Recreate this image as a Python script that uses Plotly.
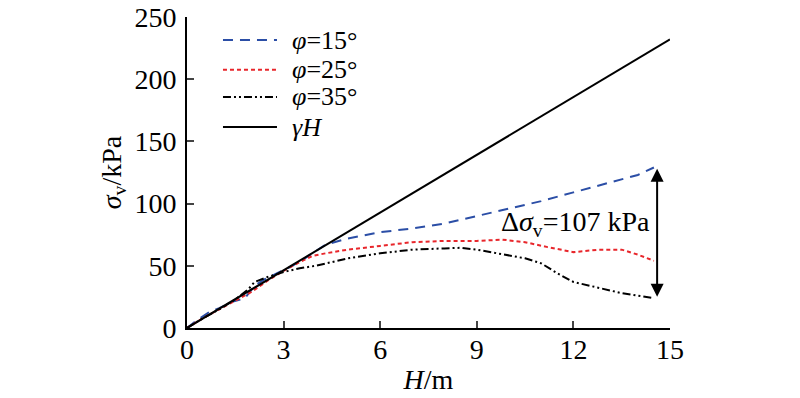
import plotly.graph_objects as go

# ---- data ----
H_15 = [0, 0.3, 0.7, 1.0, 1.4, 1.8, 2.1, 2.4, 2.8, 3.2, 3.6, 4.0, 4.3, 5.0, 6.0, 7.0, 8.0, 9.0, 10.0, 11.0, 12.0, 13.0, 14.0, 14.5]
S_15 = [0, 6, 13, 16, 21, 24, 34, 39, 44, 49, 55, 62, 67, 72, 77, 80, 84, 90, 96, 102, 109, 116, 123, 129]

H_25 = [0, 0.5, 1.0, 1.5, 2.0, 2.5, 3.0, 3.5, 3.9, 4.3, 5.0, 6.0, 7.0, 8.0, 9.0, 9.8, 10.5, 11.2, 12.0, 12.8, 13.5, 14.0, 14.5]
S_25 = [0, 8, 15, 22, 29, 38, 46, 53, 58, 60, 63, 66, 69, 70, 70, 71, 69, 65, 61, 63, 63, 59, 54]

H_35 = [0, 0.5, 1.0, 1.5, 1.9, 2.1, 2.5, 3.0, 3.5, 4.0, 4.5, 5.0, 6.0, 7.0, 8.0, 8.5, 9.0, 9.7, 10.5, 11.0, 11.5, 12.0, 12.5, 13.0, 13.5, 14.0, 14.5]
S_35 = [0, 8, 15, 23, 31, 37, 41, 45, 48, 50, 53, 56, 60, 63, 64, 64.5, 63, 60, 56, 52, 44, 37, 34, 31, 28, 26, 24]

H_g = [0, 15]
S_g = [0, 232]

x_ticks = [0, 3, 6, 9, 12, 15]
y_ticks = [0, 50, 100, 150, 200, 250]

names = ["<i>φ</i>=15°", "<i>φ</i>=25°", "<i>φ</i>=35°", "<i>γH</i>"]
delta_label = "Δ<i>σ</i><sub>v</sub>=107 kPa"
arrow_H = 14.6
arrow_top = 128
arrow_bot = 24

FONT = "Liberation Serif"

styles = [
    dict(color="#2b4ea6", width=2, dash="10px,7px"),
    dict(color="#e8262b", width=2, dash="4px,3px"),
    dict(color="black", width=2, dash="8px,3px,2px,3px,2px,3px"),
    dict(color="black", width=2),
]
series = [(H_15, S_15), (H_25, S_25), (H_35, S_35), (H_g, S_g)]

fig = go.Figure()
for (hx, sy), nm, st in zip(series, names, styles):
    fig.add_trace(go.Scatter(x=hx, y=sy, mode="lines", name=nm, line=st, showlegend=False))

# legend (drawn as sample lines + labels, in paper coordinates)
leg_y = [0.926, 0.830, 0.743, 0.646]
for nm, st, yy in zip(names, styles, leg_y):
    fig.add_shape(type="line", xref="paper", yref="paper", x0=0.0745, x1=0.1863, y0=yy, y1=yy,
                  line=st)
    fig.add_annotation(x=0.2133, y=yy, xref="paper", yref="paper", xanchor="left", yanchor="middle",
                       text=nm, showarrow=False, font=dict(family=FONT, size=26, color="black"))

fig.add_annotation(x=arrow_H, y=arrow_top, ax=arrow_H, ay=arrow_bot,
                   xref="x", yref="y", axref="x", ayref="y",
                   text="", showarrow=True, arrowhead=2, arrowside="end+start",
                   arrowsize=1.3, arrowwidth=2, arrowcolor="black")
fig.add_annotation(x=14.45, y=84, xref="x", yref="y", xanchor="right", yanchor="middle",
                   text=delta_label, showarrow=False,
                   font=dict(family=FONT, size=28, color="black"))

fig.update_layout(
    width=800, height=398,
    margin=dict(l=187, r=130, t=17, b=70),
    paper_bgcolor="white", plot_bgcolor="white",
    font=dict(family=FONT, size=28, color="black"),
    showlegend=False,
    xaxis=dict(range=[0, 15], tickvals=x_ticks, ticks="inside", ticklen=7, tickwidth=1.5,
               showline=True, linecolor="black", linewidth=2, showgrid=False, zeroline=False,
               automargin=False, ticklabelstandoff=-5,
               title=dict(text="<i>H</i>/m", standoff=6, font=dict(family=FONT, size=28)),
               tickfont=dict(family=FONT, size=28)),
    yaxis=dict(range=[0, 250], tickvals=y_ticks, ticks="inside", ticklen=7, tickwidth=1.5,
               showline=True, linecolor="black", linewidth=2, showgrid=False, zeroline=False,
               automargin=False, ticklabelstandoff=3,
               title=dict(text="<i>σ</i><sub>v</sub>/kPa", standoff=5, font=dict(family=FONT, size=28)),
               tickfont=dict(family=FONT, size=28)),
)

fig.write_html("out.html", config={"displayModeBar": False},
               post_script="document.body.style.margin='0px';")
